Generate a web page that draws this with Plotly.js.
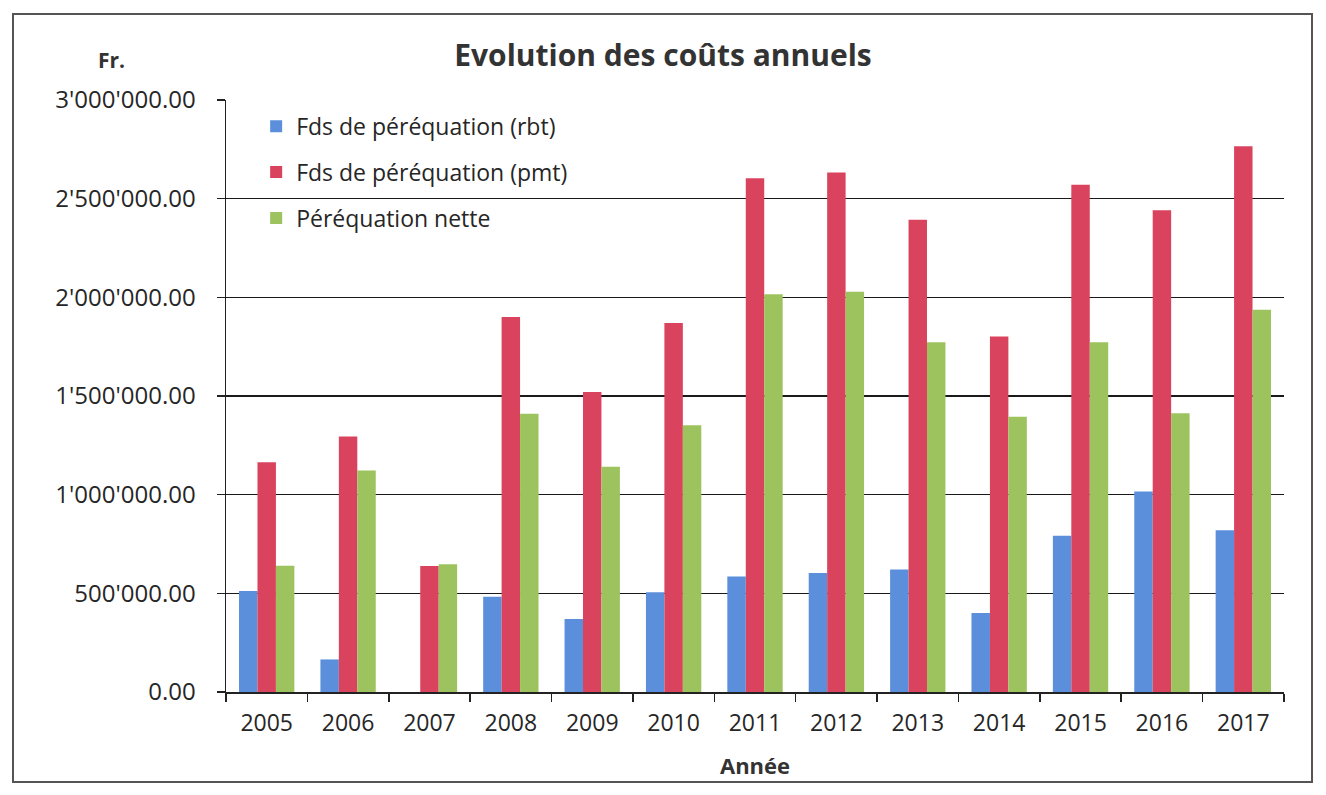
<!DOCTYPE html>
<html>
<head>
<meta charset="utf-8">
<script src="https://cdn.plot.ly/plotly-3.0.1.min.js"></script>
<style>
  html, body { margin: 0; padding: 0; background: #fff; }
  #wrap { position: relative; width: 1326px; height: 795px; }
  #chart { width: 1326px; height: 795px; }
  #frame { position: absolute; left: 12px; top: 13px; width: 1301px; height: 770px;
           border: 2px solid #555; pointer-events: none; box-sizing: border-box; }
</style>
</head>
<body>
<div id="wrap">
  <div id="chart"></div>
  <div id="frame"></div>
</div>
<script>
const years = ['2005','2006','2007','2008','2009','2010','2011','2012','2013','2014','2015','2016','2017'];
const rbt  = [512000, 165000, -8000, 483000, 370000, 505000, 585000, 603000, 621000, 400000, 792000, 1016000, 820000];
const pmt  = [1164000, 1295000, 638000, 1900000, 1520000, 1870000, 2603000, 2633000, 2393000, 1802000, 2571000, 2441000, 2765000];
const nette = [640000, 1122000, 648000, 1410000, 1142000, 1352000, 2016000, 2028000, 1772000, 1395000, 1772000, 1413000, 1937000];
const seriesNames = ['Fds de péréquation (rbt)', 'Fds de péréquation (pmt)', 'Péréquation nette'];
const yTicks = [0, 500000, 1000000, 1500000, 2000000, 2500000, 3000000];

const FONT = 'Open Sans, Liberation Sans, sans-serif';
const colors = ['#5b8fdb', '#d9435d', '#9cc35e'];
const vals = [rbt, pmt, nette];

const traces = vals.map((v, i) => ({
  type: 'bar',
  x: years,
  y: v,
  name: seriesNames[i],
  legendgroup: 'g' + i,
  marker: { color: colors[i], line: { width: 0 } },
  cliponaxis: false,
  hoverinfo: 'x+y+name'
}));

const layout = {
  width: 1326,
  height: 795,
  paper_bgcolor: '#ffffff',
  plot_bgcolor: '#ffffff',
  separators: ".'",
  margin: { l: 226, r: 42, t: 100, b: 103 },
  barmode: 'group',
  bargap: 0.32,
  bargroupgap: 0,
  font: { family: FONT, color: '#262626' },
  title: {
    text: '<b>Evolution des coûts annuels</b>',
    font: { family: FONT, size: 30, color: '#333333' },
    x: 0.5, xref: 'container', xanchor: 'center',
    y: 0.93, yref: 'container', yanchor: 'middle'
  },
  xaxis: {
    type: 'category',
    showline: true, linecolor: '#222', linewidth: 1.5,
    ticks: 'outside', ticklen: 8, tickcolor: '#222', tickwidth: 1.5,
    tickson: 'boundaries',
    ticklabelstandoff: 10,
    tickfont: { family: FONT, size: 23, color: '#262626' },
    showgrid: false,
    title: { text: '<b>Année</b>', font: { family: FONT, size: 22, color: '#333' }, standoff: 21 }
  },
  yaxis: {
    range: [0, 3000000],
    tickvals: yTicks,
    tickformat: ',.2f',
    showline: true, linecolor: '#222', linewidth: 1.5,
    ticks: 'outside', ticklen: 8, tickcolor: '#222', tickwidth: 1.5,
    ticklabelstandoff: 16,
    showgrid: true, gridcolor: '#1a1a1a', gridwidth: 1.5,
    zeroline: false,
    tickfont: { family: FONT, size: 24, color: '#262626' }
  },
  legend: {
    x: 0.0285, xanchor: 'left',
    y: 0.992, yanchor: 'top',
    bgcolor: 'rgba(0,0,0,0)',
    font: { family: FONT, size: 23, color: '#262626' },
    tracegroupgap: 13,
    itemwidth: 30
  },
  annotations: [{
    text: '<b>Fr.</b>',
    xref: 'paper', yref: 'paper',
    x: -0.108, y: 1.068, xanchor: 'center', yanchor: 'middle',
    showarrow: false,
    font: { family: FONT, size: 21, color: '#333' }
  }]
};

Plotly.newPlot('chart', traces, layout, { displayModeBar: false, staticPlot: true });
</script>
</body>
</html>
